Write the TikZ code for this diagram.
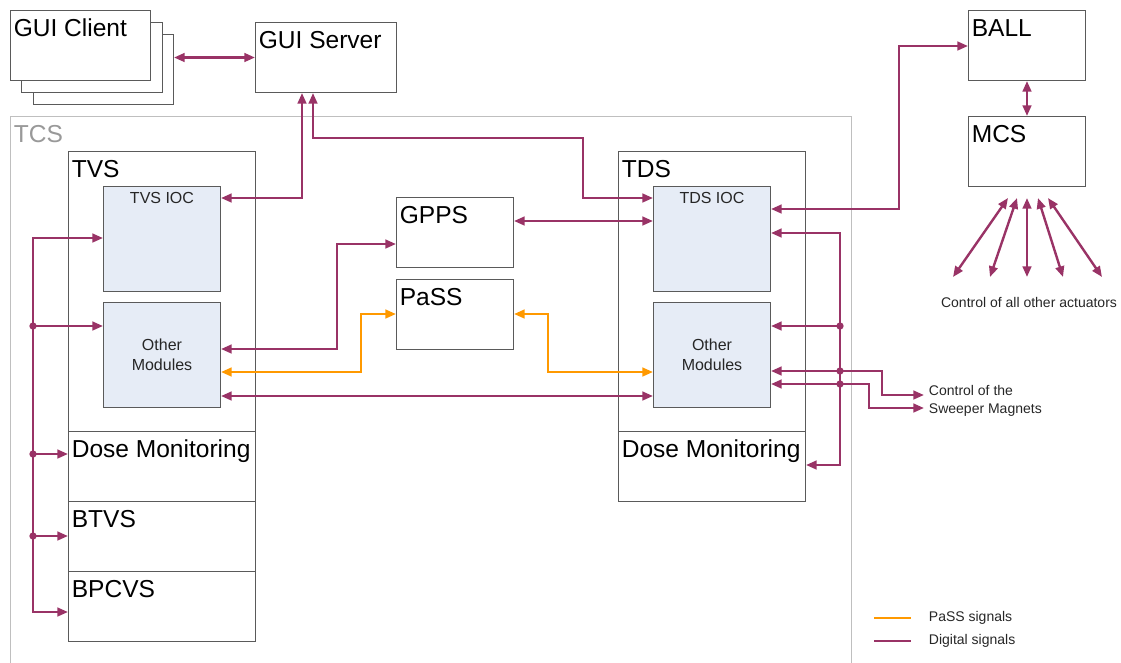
\documentclass[tikz,border=0pt]{standalone}
\usepackage{fontspec}
\setmainfont{Liberation Sans}
\usetikzlibrary{arrows.meta}

\definecolor{digital}{RGB}{153,51,102}
\definecolor{passorange}{RGB}{255,153,0}
\definecolor{iocfill}{RGB}{230,236,246}
\definecolor{boxline}{RGB}{90,90,90}
\definecolor{tcsline}{RGB}{191,191,191}

\tikzset{every picture/.style={line width=0.75pt}}
\tikzset{
	blk/.style={draw=boxline, fill=white, anchor=north west, inner sep=0pt},
	mod/.style={blk, fill=iocfill, minimum width=117*0.75pt, minimum height=105*0.75pt},
	title/.style={anchor=north west, inner xsep=2.5pt, inner ysep=6.5pt, font=\fontsize{18.4}{20}\selectfont},
	small/.style={font=\fontsize{12}{15}\selectfont, text=black!85, align=center},
	note/.style={font=\fontsize{10.5}{13.5}\selectfont, text=black!85},
	dig/.style={draw=digital, line width=1.8pt},
	pss/.style={draw=passorange, line width=1.8pt},
	jn/.style={fill=digital, draw=none, circle, inner sep=0pt, minimum size=5.5pt}
}

\begin{document}
\begin{tikzpicture}[x=0.75pt,y=0.75pt,yscale=-1,xscale=1,>={Triangle[length=8pt,width=6.5pt]}]
	\useasboundingbox (0,0) rectangle (1121,662);

	%Shape: TCS frame
	\node[draw=tcsline, anchor=north west, inner sep=0pt, minimum width=841*0.75pt, minimum height=560*0.75pt] (tcs) at (10,116) {};
	\node[title, text=black!40] at (tcs.north west) {TCS};

	%Shape: GUI clients (stacked)
	\node[blk, minimum width=140*0.75pt, minimum height=70*0.75pt] (client3) at (33,34) {};
	\node[blk, minimum width=141*0.75pt, minimum height=70*0.75pt] (client2) at (21,22) {};
	\node[blk, minimum width=140*0.75pt, minimum height=70*0.75pt] (client1) at (10,10) {};
	\node[title] at (client1.north west) {GUI Client};
	%Shape: GUI server
	\node[blk, minimum width=141*0.75pt, minimum height=70*0.75pt] (gui) at (255,22) {};
	\node[title] at (gui.north west) {GUI Server};

	%Shape: TVS column
	\node[blk, minimum width=187*0.75pt, minimum height=280*0.75pt] (tvs) at (68,151) {};
	\node[title] at (tvs.north west) {TVS};
	\node[blk, minimum width=187*0.75pt, minimum height=70*0.75pt] (tvsdose) at (68,431) {};
	\node[title] at (tvsdose.north west) {Dose Monitoring};
	\node[blk, minimum width=187*0.75pt, minimum height=70*0.75pt] (btvs) at (68,501) {};
	\node[title] at (btvs.north west) {BTVS};
	\node[blk, minimum width=187*0.75pt, minimum height=70*0.75pt] (bpcvs) at (68,571) {};
	\node[title] at (bpcvs.north west) {BPCVS};
	\node[mod] (tvsioc) at (103,186) {};
	\node[small, anchor=north, inner sep=4.5pt] at (tvsioc.north) {TVS IOC};
	\node[mod, small] (tvsoth) at (103,302) {Other\\Modules};

	%Shape: TDS column
	\node[blk, minimum width=187*0.75pt, minimum height=280*0.75pt] (tds) at (618,151) {};
	\node[title] at (tds.north west) {TDS};
	\node[blk, minimum width=187*0.75pt, minimum height=70*0.75pt] (tdsdose) at (618,431) {};
	\node[title] at (tdsdose.north west) {Dose Monitoring};
	\node[mod] (tdsioc) at (653,186) {};
	\node[small, anchor=north, inner sep=4.5pt] at (tdsioc.north) {TDS IOC};
	\node[mod, small] (tdsoth) at (653,302) {Other\\Modules};

	%Shape: GPPS, PaSS
	\node[blk, minimum width=117*0.75pt, minimum height=70*0.75pt] (gpps) at (396,197) {};
	\node[title] at (gpps.north west) {GPPS};
	\node[blk, minimum width=117*0.75pt, minimum height=70*0.75pt] (pass) at (396,279) {};
	\node[title] at (pass.north west) {PaSS};

	%Shape: BALL, MCS
	\node[blk, minimum width=117*0.75pt, minimum height=70*0.75pt] (ball) at (968,10) {};
	\node[title] at (ball.north west) {BALL};
	\node[blk, minimum width=117*0.75pt, minimum height=70*0.75pt] (mcs) at (968,116) {};
	\node[title] at (mcs.north west) {MCS};

	%Straight Lines: GUI links
	\draw[dig,<->] (client3.east |- gui.west) -- (gui.west);
	\draw[dig,<->] (tvsioc.east |- 0,198) -| (302,0 |- gui.south);
	\draw[dig,<->] (313,0 |- gui.south) |- (583,138) |- (tdsioc.west |- 0,198);

	%Straight Lines: between TVS and TDS
	\draw[dig,<->] (gpps.east |- 0,221) -- (tdsioc.west |- 0,221);
	\draw[dig,<->] (tvsoth.east |- 0,349) -| (337,244) -- (gpps.west |- 0,244);
	\draw[pss,<->] (tvsoth.east |- 0,372) -| (361,314) -- (pass.west |- 0,314);
	\draw[pss,<->] (pass.east |- 0,314) -| (548,372) -- (tdsoth.west |- 0,372);
	\draw[dig,<->] (tvsoth.east |- 0,396) -- (tdsoth.west |- 0,396);

	%Straight Lines: TVS bus
	\draw[dig,->] (33,612) |- (tvsioc.west |- 0,238);
	\draw[dig,->] (33,238) |- (bpcvs.west |- 0,612);
	\draw[dig,->] (33,326) -- (tvsoth.west |- 0,326);
	\draw[dig,->] (33,454) -- (tvsdose.west |- 0,454);
	\draw[dig,->] (33,536) -- (btvs.west |- 0,536);
	\foreach \yy in {326,454,536} \node[jn] at (33,\yy) {};

	%Straight Lines: TDS bus
	\draw[dig,->] (840,465) |- (tdsioc.east |- 0,233);
	\draw[dig,->] (840,233) |- (tdsdose.east |- 0,465);
	\draw[dig,->] (840,326) -- (tdsoth.east |- 0,326);

	% Text Node
	\node[note, anchor=west, align=left] (swptxt) at (924,401) {Control of the\\Sweeper Magnets};
	\coordinate (swp1) at (swptxt.west |- 0,395);
	\coordinate (swp2) at (swptxt.west |- 0,408);
	\draw[dig,<->] (tdsoth.east |- 0,371) -| (882,395) -- (swp1);
	\draw[dig,<->] (tdsoth.east |- 0,384) -| (869,408) -- (swp2);
	\foreach \yy in {326,371,384} \node[jn] at (840,\yy) {};

	%Straight Lines: BALL and MCS
	\draw[dig,<->] (tdsioc.east |- 0,209) -| (899,46) -- (ball.west |- 0,46);
	\draw[dig,<->] (ball.south) -- (mcs.north);
	\foreach \sx/\ex [count=\i] in {1008/953, 1017/990, 1027/1027, 1038/1063, 1048/1102} {
		\coordinate (mcsp\i) at (\sx,198);
		\coordinate (act\i) at (\ex,277);
		\draw[dig,<->] (mcsp\i) -- (act\i);
	}
	% Text Node
	\node[note] (acttxt) at (1029,302) {Control of all other actuators};

	% Legend
	\node[note, anchor=west] (lgpass) at (924,618) {PaSS signals};
	\node[note, anchor=west] (lgdig) at (924,641) {Digital signals};
	\draw[pss] (874,618) -- (911,618);
	\draw[dig] (874,641) -- (911,641);

\end{tikzpicture}
\end{document}
